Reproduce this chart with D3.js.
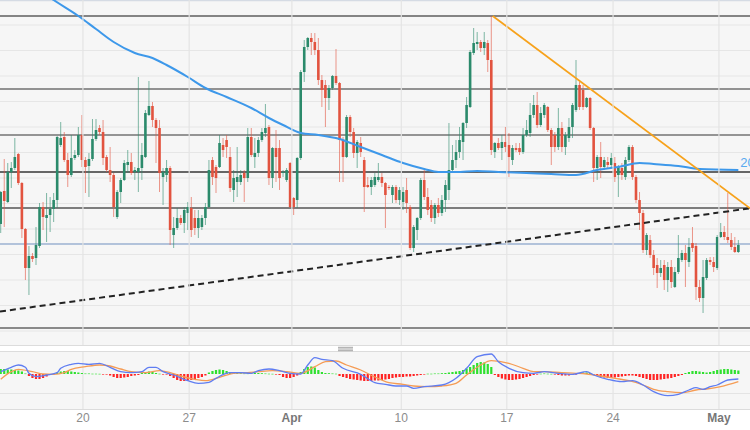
<!DOCTYPE html>
<html><head><meta charset="utf-8">
<script src="https://cdn.jsdelivr.net/npm/d3@7"></script>
<style>body{margin:0;background:#fff}svg{display:block}</style>
</head><body><svg id="c" width="750" height="430"></svg>
<script>
// Prices in pips: price = 1 + pips/10000 (4-hour candles)
const openPips = [776,809,798,828,832,846,817,771,732,744,742,754,793,782,785,791,800,855,863,840,825,842,845,865,840,834,841,861,872,868,
843,830,825,783,808,820,835,838,828,828,832,843,885,894,880,872,823,825,832,765,772,782,777,787,792,782,772,773,782,793,
840,833,833,855,860,843,810,818,818,827,822,863,843,847,860,867,873,822,852,852,827,820,837,802,800,842,928,953,962,958,
950,920,915,902,912,924,917,860,843,883,868,847,857,840,815,813,815,820,823,817,813,805,813,800,798,810,793,752,770,782,
820,803,795,782,795,787,800,810,830,840,848,858,877,893,947,956,958,952,957,940,848,857,852,858,855,840,852,852,848,865,
867,885,895,875,885,893,870,865,853,872,853,862,873,890,915,910,893,902,872,832,843,833,838,835,837,825,832,823,840,853,
823,800,787,750,760,745,735,727,735,720,733,713,728,740,747,738,757,754,713,702,722,740,738,732,763,768,763,760,753,748];
const closePips = [808,799,828,832,843,817,771,732,744,741,755,793,783,785,791,800,863,862,840,825,842,845,865,840,833,841,861,870,868,842,
830,825,793,808,820,837,838,827,830,832,845,887,894,880,872,827,828,832,770,772,782,777,790,793,770,772,782,782,793,830,
823,822,857,850,853,812,822,823,825,822,863,845,847,860,868,872,822,852,843,822,828,830,793,793,842,928,953,962,958,950,
920,910,902,912,924,917,860,843,883,868,847,858,848,813,813,820,823,823,817,805,812,813,800,810,808,797,752,773,782,820,
803,790,782,795,787,800,815,830,840,848,860,877,895,948,957,958,952,958,940,850,857,852,858,853,843,852,850,848,865,870,
885,895,875,887,895,870,853,853,872,853,865,873,895,915,893,893,902,872,832,843,833,840,835,842,823,833,825,840,853,823,
800,787,750,765,745,732,727,732,720,733,718,728,742,747,740,753,752,713,702,723,740,738,733,763,768,763,760,753,748,755];
const highPips = [809,841,837,838,862,847,818,772,754,747,773,797,798,807,803,807,864,878,868,847,865,850,873,885,843,847,881,881,875,880,
845,853,827,810,822,840,850,847,833,923,857,890,919,898,882,880,832,840,834,783,792,785,793,798,803,790,790,785,797,840,
843,835,865,862,865,853,830,853,830,830,872,872,862,863,872,896,875,853,870,860,830,832,838,803,843,930,960,963,967,967,
962,925,920,915,925,951,918,863,885,885,872,860,863,843,823,823,827,837,827,818,815,815,815,813,813,822,795,775,783,822,
830,812,800,797,802,805,820,877,855,860,873,878,903,950,972,968,960,968,960,984,858,862,865,873,867,855,857,857,872,880,
897,905,908,893,897,894,872,868,892,878,868,882,897,940,918,915,903,903,873,845,858,843,843,847,843,835,837,843,855,855,
825,808,790,767,765,750,742,740,740,738,740,733,765,750,755,762,773,757,720,740,742,743,743,765,777,774,807,767,763,760];
const lowPips = [767,773,797,812,830,815,762,720,705,738,735,752,770,758,768,778,792,853,838,813,823,840,843,833,807,803,839,859,865,835,
828,818,783,781,797,819,827,825,820,808,820,842,884,873,837,808,795,818,755,752,770,775,767,770,763,765,762,770,775,792,
815,807,832,843,842,808,798,803,815,798,818,843,832,843,858,863,815,812,818,810,823,818,792,785,792,840,918,950,945,945,
915,893,873,890,910,915,818,818,842,863,842,832,843,788,812,805,813,818,813,772,810,797,797,795,790,787,750,748,760,780,
800,785,778,776,783,784,788,800,828,832,842,840,872,892,945,950,948,945,928,845,842,850,840,848,823,835,848,845,846,863,
863,882,872,873,882,868,835,848,850,848,845,858,862,888,890,890,892,870,818,820,822,830,832,832,818,803,820,820,838,820,
797,770,747,745,742,725,712,723,710,708,712,712,726,738,713,733,748,700,698,687,720,735,728,730,762,760,757,750,747,747];

// 200-period moving average samples (candle index, pips)
const maIdx = [0,8,15,22,27,32,38,43,47,53,58,64,71,76,80,85,90,96,102,108,114,120,124,129,135,141,149,156,163,169,175,181,185,192,198,209];
const maPips = [1040,1018,1000,984,971,958,947,942,935,923,912,903,892,882,875,867,865,861,853,845,837,831,828,828,829,828,827,826,825,830,833,837,836,834,831,830];

// horizontal levels (pips)
const darkLevels = [984,911,865,828,792,672];
const blueLevel = 756;
// trend lines [index, pips]
const dashedTrend = [[-0.2,688.5],[212.3,791.7]];
const orangeTrend = [[139.4,984],[212.3,791.7]];

// MACD (pips)
const macdIdx = [0,3,5,7,8,10,13,16,17,20,22,25,28,31,34,37,40,42,44,46,49,53,56,59,61,65,68,71,73,76,79,82,85,87,89,91,94,97,102,106,109,112,115,117,120,125,129,132,135,139,141,144,148,151,154,158,162,166,168,172,176,179,182,185,189,192,195,197,199,201,203,206,209];
const macdVal = [2.3,6.7,9,6.7,0.7,-2.7,-1,1.3,5.7,9.7,10.7,9.7,10.7,6.7,2.3,1.3,2.3,6.7,6.7,2.3,-1,-6.7,-9.3,-8.3,-4.3,1.3,1.3,0.7,3.3,5,3.3,0.7,0,9,16.3,14.7,13.3,5.7,-0.3,-8.7,-10.3,-12,-12,-14.3,-12.7,-11,-4.3,5.7,17.3,20,12.3,5.7,1.3,0.7,2.3,0.7,-0.3,2.3,-1,-5.3,-7.7,-6.7,-11,-17.7,-21.7,-20.3,-16,-13.7,-15.3,-12.7,-11,-6,-5];
const signalIdx = [0,3,5,9,12,15,18,20,24,28,31,34,37,41,45,48,51,55,58,62,66,70,73,77,81,85,89,92,95,98,102,106,110,114,117,121,125,129,132,136,139,144,148,151,154,159,163,166,170,174,178,182,185,189,193,197,200,204,209];
const signalVal = [-5.3,2.3,4.7,2.3,0,-0.3,1.3,4.7,7.3,9,8,5,2.3,1.3,3.3,1.3,-2,-5.3,-6.7,-3.3,0.7,1.3,2.3,3.3,2.3,0.7,7.3,12.3,13,9,4,-3,-8.7,-10.3,-12,-12.7,-12,-9.3,-1,9,13.3,10.7,5.7,2.3,2.3,1.3,0.7,0,-2,-4.3,-6.7,-11,-15.3,-17.7,-18.7,-16,-15,-12.7,-7.7];
const histVal = [5,5,4.5,4.5,4,3.5,2.5,0.5,-2,-4,-5,-5,-4,-2.5,-1,-0.5,1.5,2.5,3,3,2.5,2,1.5,1,0.5,0.5,0.3,0.3,0.2,-0.3,
-0.5,-1.5,-3,-4,-4,-3.5,-3,-2,-1.5,-1,1,2,2.5,2,1,0.3,-0.3,-0.5,-2,-4,-6,-7,-7,-6.5,-6,-5,-4,-3,-1.5,1.5,
3,4,4.5,4,3,2,1,1,0.8,0.5,0.5,0.8,1,1,0.8,0.5,0.3,0.2,-0.5,-1,-3,-4,-4,-3,-1.5,2,5,7,7.5,6.5,
4,2,1,0.8,0.5,0.3,-2,-3,-4,-5,-5.5,-6,-6.5,-7,-7,-7,-6.5,-6.5,-6,-5.5,-5,-4,-3.5,-3,-3,-2.5,-2.5,-2,-1.5,-1,
-0.5,0.3,0.3,0.5,0.5,0.8,1,1.5,2,2.5,3,4,5.5,7,9,11,12,11.5,10,7,-1,-3,-4.5,-5.5,-6,-6,-5.5,-5,-4,-3,
-2,-1,-0.3,0.3,0.5,0.3,0.2,-0.3,-1,-1.5,-1.5,-1.5,-1,-0.5,1,1.5,1.5,1,-1,-2,-3,-3.5,-4,-4,-3.5,-3,-2.5,-2,-1.5,-1.5,
-2,-3,-4,-5,-6,-6,-6,-5.5,-5,-4.5,-4,-3,-2,-1,1,2,3,3,2.5,2,1.5,2,3,4,4.5,5,5,4.5,4,3.5];

// date axis
const tickIdx = [23.3,53.4,82.5,113.5,143.4,173.5,203.5];
const tickLabels = ["20","27","Apr","10","17","24","May"];
const maLabel = "200";

const pr = v => 1 + v/10000;
const svg = d3.select('#c');
const x = d3.scaleLinear().domain([-0.2,212.3]).range([0,750]);
const y = d3.scaleLinear().domain([1.0655,1.1000]).range([345,0]);
const ym = d3.scaleLinear().domain([-0.0035,0.0022]).range([409,352]);

const defs = svg.append('defs');
defs.append('clipPath').attr('id','mainClip').append('rect').attr('x',0).attr('y',0).attr('width',750).attr('height',345);
defs.append('clipPath').attr('id','macdClip').append('rect').attr('x',0).attr('y',352).attr('width',750).attr('height',57);

// backgrounds
svg.append('rect').attr('x',0).attr('y',0).attr('width',750).attr('height',345).attr('fill','#f6f6f6');
svg.append('rect').attr('x',0).attr('y',352).attr('width',750).attr('height',57).attr('fill','#f6f6f6');
svg.append('line').attr('x1',0).attr('x2',750).attr('y1',0.5).attr('y2',0.5).attr('stroke','#d5dbe4').attr('stroke-width',1.5);
[345.5,351.5,409.5].forEach(v=>svg.append('line').attr('x1',0).attr('x2',750).attr('y1',v).attr('y2',v).attr('stroke','#dcdcdc'));

const main = svg.append('g').attr('clip-path','url(#mainClip)');
// horizontal gridlines
const grid = d3.range(0,13).map(k => 975 - 25.5*k);
main.selectAll('.hg').data(grid).join('line').attr('x1',0).attr('x2',750)
  .attr('y1',d=>y(pr(d))).attr('y2',d=>y(pr(d))).attr('stroke','#e6e6e6').attr('stroke-width',1);
// vertical gridlines
svg.selectAll('.vg').data(tickIdx).join('line').attr('x1',d=>x(d)).attr('x2',d=>x(d))
  .attr('y1',0).attr('y2',345).attr('stroke','#e4e4e4').attr('stroke-width',1.2);
svg.selectAll('.vg2').data(tickIdx).join('line').attr('x1',d=>x(d)).attr('x2',d=>x(d))
  .attr('y1',352).attr('y2',409).attr('stroke','#e4e4e4').attr('stroke-width',1.2);
svg.append('line').attr('x1',0).attr('x2',750).attr('y1',393.5).attr('y2',393.5).attr('stroke','#e4e4e4');

// level lines
const levelStyle = {984:['#5e5e5e',1.6],911:['#2e2e2e',1.1],865:['#333',1.2],828:['#666',2],792:['#555',1.5],672:['#666',1.6]};
main.selectAll('.lv').data(darkLevels).join('line').attr('x1',0).attr('x2',750)
  .attr('y1',d=>y(pr(d))).attr('y2',d=>y(pr(d)))
  .attr('stroke',d=>levelStyle[d][0]).attr('stroke-width',d=>levelStyle[d][1]);
main.append('line').attr('x1',0).attr('x2',750).attr('y1',y(pr(blueLevel))).attr('y2',y(pr(blueLevel)))
  .attr('stroke','#6f8fbf').attr('stroke-width',1);

// candles
const up='#2b8a6b', dn='#e2533f';
const candles = openPips.map((o,i)=>({i,o:pr(o),c:pr(closePips[i]),h:pr(highPips[i]),l:pr(lowPips[i])}));
const bw = 2.6;
const cg = main.append('g');
cg.selectAll('.wk').data(candles).join('line')
  .attr('x1',d=>x(d.i)).attr('x2',d=>x(d.i)).attr('y1',d=>y(d.h)).attr('y2',d=>y(d.l))
  .attr('stroke',d=>d.c>=d.o?up:dn).attr('stroke-opacity',0.6).attr('stroke-width',1);
cg.selectAll('.bd').data(candles).join('rect')
  .attr('x',d=>x(d.i)-bw/2).attr('width',bw)
  .attr('y',d=>y(Math.max(d.o,d.c)))
  .attr('height',d=>Math.max(1,Math.abs(y(d.o)-y(d.c))))
  .attr('fill',d=>d.c>=d.o?up:dn);

// moving average
const ma = maIdx.map((d,k)=>[d,pr(maPips[k])]);
main.append('path').datum(ma).attr('fill','none').attr('stroke','#3d98ea').attr('stroke-width',2)
  .attr('d',d3.line().x(d=>x(d[0])).y(d=>y(d[1])).curve(d3.curveMonotoneX));

// trend lines
main.append('path').datum(dashedTrend).attr('fill','none').attr('stroke','#222').attr('stroke-width',2)
  .attr('stroke-dasharray','6,4').attr('d',d3.line().x(d=>x(d[0])).y(d=>y(pr(d[1]))));
main.append('path').datum(orangeTrend).attr('fill','none').attr('stroke','#f7a21b').attr('stroke-width',1.7)
  .attr('d',d3.line().x(d=>x(d[0])).y(d=>y(pr(d[1]))));

// MA label
const lastMa = ma[ma.length-1];
svg.append('text').attr('x',x(lastMa[0])+2).attr('y',y(lastMa[1])-3)
  .attr('font-family','Liberation Sans, Arial, sans-serif').attr('font-size',13).attr('fill','#5aaaf0').text(maLabel);

// panel handle
[347.3,349,350.7].forEach(v=>svg.append('line').attr('x1',338).attr('x2',353).attr('y1',v).attr('y2',v).attr('stroke','#999').attr('stroke-width',0.9));

// MACD panel
const mg = svg.append('g').attr('clip-path','url(#macdClip)');
mg.selectAll('.hb').data(histVal).join('rect')
  .attr('x',(d,i)=>x(i)-1.1).attr('width',2.2)
  .attr('y',d=>Math.min(ym(0),ym(d/10000)))
  .attr('height',d=>Math.max(0.6,Math.abs(ym(d/10000)-ym(0))))
  .attr('fill',d=>d>=0?'#2fe02f':'#ff2424');
const ml = d3.line().x(d=>x(d[0])).y(d=>ym(d[1]/10000)).curve(d3.curveMonotoneX);
mg.append('path').datum(signalIdx.map((d,k)=>[d,signalVal[k]])).attr('fill','none').attr('stroke','#f59c55').attr('stroke-width',1.3).attr('d',ml);
mg.append('path').datum(macdIdx.map((d,k)=>[d,macdVal[k]])).attr('fill','none').attr('stroke','#5f7df2').attr('stroke-width',1.3).attr('d',ml);

// date labels
svg.selectAll('.tl').data(tickLabels).join('text')
  .attr('x',(d,k)=>x(tickIdx[k])).attr('y',422).attr('text-anchor','middle')
  .attr('font-family','Liberation Sans, Arial, sans-serif').attr('font-size',12)
  .attr('font-weight',d=>/[A-Za-z]/.test(d)?'bold':'normal')
  .attr('fill',d=>/[A-Za-z]/.test(d)?'#777':'#8c8c8c')
  .text(d=>d);
</script></body></html>
